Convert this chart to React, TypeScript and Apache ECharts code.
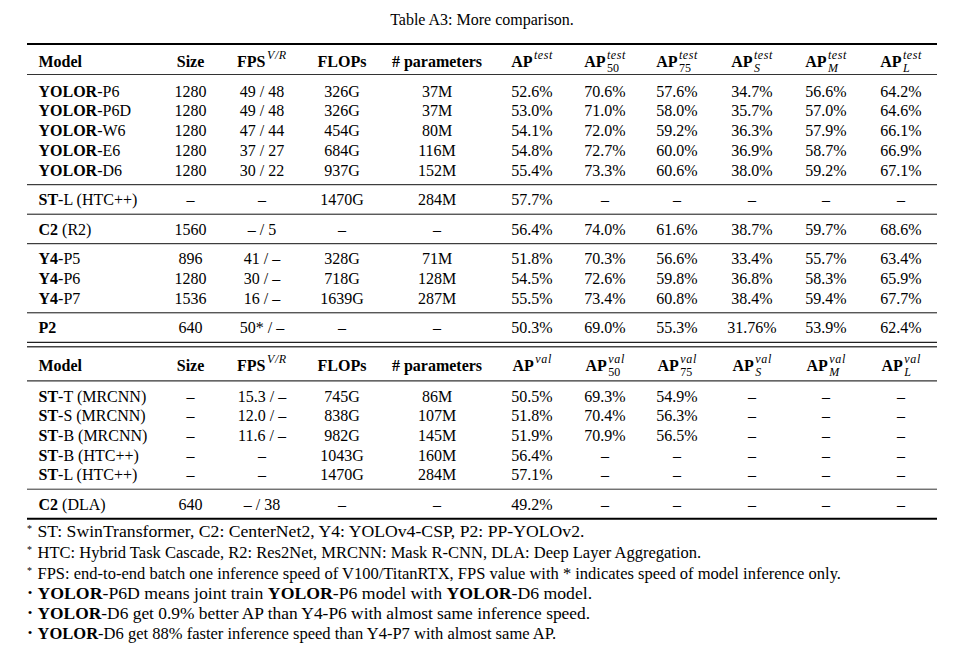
import React, { useEffect, useRef } from "react";
import * as echarts from "echarts";

const titleText = "Table A3: More comparison.";

// ---- header definitions ----
const headerMain = ["Model", "Size", "FPS", "FLOPs", "# parameters", "AP", "AP", "AP", "AP", "AP", "AP"];
const headerSupTop = ["", "", "V/R", "", "", "test", "test", "test", "test", "test", "test"];
const headerSupBottom = ["", "", "V/R", "", "", "val", "val", "val", "val", "val", "val"];
const headerSub = ["", "", "", "", "", "", "50", "75", "S", "M", "L"];
const headerSubItalic = [false, false, false, false, false, false, false, false, true, true, true];

// ---- top section (test-dev) ----
const topGroups = [5, 1, 1, 3, 1];
const topModelBold = ["YOLOR", "YOLOR", "YOLOR", "YOLOR", "YOLOR", "ST", "C2", "Y4", "Y4", "Y4", "P2"];
const topModelRest = ["-P6", "-P6D", "-W6", "-E6", "-D6", "-L (HTC++)", " (R2)", "-P5", "-P6", "-P7", ""];
const topSize = ["1280", "1280", "1280", "1280", "1280", "–", "1560", "896", "1280", "1536", "640"];
const topFps = ["49 / 48", "49 / 48", "47 / 44", "37 / 27", "30 / 22", "–", "– / 5", "41 / –", "30 / –", "16 / –", "50* / –"];
const topFlops = ["326G", "326G", "454G", "684G", "937G", "1470G", "–", "328G", "718G", "1639G", "–"];
const topParams = ["37M", "37M", "80M", "116M", "152M", "284M", "–", "71M", "128M", "287M", "–"];
const topAP = ["52.6%", "53.0%", "54.1%", "54.8%", "55.4%", "57.7%", "56.4%", "51.8%", "54.5%", "55.5%", "50.3%"];
const topAP50 = ["70.6%", "71.0%", "72.0%", "72.7%", "73.3%", "–", "74.0%", "70.3%", "72.6%", "73.4%", "69.0%"];
const topAP75 = ["57.6%", "58.0%", "59.2%", "60.0%", "60.6%", "–", "61.6%", "56.6%", "59.8%", "60.8%", "55.3%"];
const topAPS = ["34.7%", "35.7%", "36.3%", "36.9%", "38.0%", "–", "38.7%", "33.4%", "36.8%", "38.4%", "31.76%"];
const topAPM = ["56.6%", "57.0%", "57.9%", "58.7%", "59.2%", "–", "59.7%", "55.7%", "58.3%", "59.4%", "53.9%"];
const topAPL = ["64.2%", "64.6%", "66.1%", "66.9%", "67.1%", "–", "68.6%", "63.4%", "65.9%", "67.7%", "62.4%"];

// ---- bottom section (val) ----
const botGroups = [5, 1];
const botModelBold = ["ST", "ST", "ST", "ST", "ST", "C2"];
const botModelRest = ["-T (MRCNN)", "-S (MRCNN)", "-B (MRCNN)", "-B (HTC++)", "-L (HTC++)", " (DLA)"];
const botSize = ["–", "–", "–", "–", "–", "640"];
const botFps = ["15.3 / –", "12.0 / –", "11.6 / –", "–", "–", "– / 38"];
const botFlops = ["745G", "838G", "982G", "1043G", "1470G", "–"];
const botParams = ["86M", "107M", "145M", "160M", "284M", "–"];
const botAP = ["50.5%", "51.8%", "51.9%", "56.4%", "57.1%", "49.2%"];
const botAP50 = ["69.3%", "70.4%", "70.9%", "–", "–", "–"];
const botAP75 = ["54.9%", "56.3%", "56.5%", "–", "–", "–"];
const botAPS = ["–", "–", "–", "–", "–", "–"];
const botAPM = ["–", "–", "–", "–", "–", "–"];
const botAPL = ["–", "–", "–", "–", "–", "–"];

// ---- footnotes ----
const footMarks = ["*", "*", "*", "•", "•", "•"];
const footTexts = [
  "ST: SwinTransformer, C2: CenterNet2, Y4: YOLOv4-CSP, P2: PP-YOLOv2.",
  "HTC: Hybrid Task Cascade, R2: Res2Net, MRCNN: Mask R-CNN, DLA: Deep Layer Aggregation.",
  "FPS: end-to-end batch one inference speed of V100/TitanRTX, FPS value with * indicates speed of model inference only.",
  "{b|YOLOR}-P6D means joint train {b|YOLOR}-P6 model with {b|YOLOR}-D6 model.",
  "{b|YOLOR}-D6 get 0.9% better AP than Y4-P6 with almost same inference speed.",
  "{b|YOLOR}-D6 get 88% faster inference speed than Y4-P7 with almost same AP.",
];

// ---- layout (styles) ----
const FONT = "'Liberation Serif', 'Times New Roman', Times, serif";
const FS = 16;
const SFS = 12;
const FFS = 16.5;
const TABLE_L = 27;
const TABLE_R = 937;
const MODEL_X = 38.5;
const COL_X = [0, 190.5, 262, 342, 437, 532, 605, 677, 752, 826, 901];
const FOOT_X = 37.5;
const FOOT_Y = [532, 553, 573.5, 594, 614, 634];
const FOOT_END = [586, 703, 842, 592, 593, 558];

function App() {
  const ref = useRef<HTMLDivElement>(null);
  useEffect(() => {
    document.body.style.margin = "0";
    const chart = echarts.init(ref.current!, null, { renderer: "svg" });
    const cv = document.createElement("canvas").getContext("2d")!;
    const tw = (t: string, size: number, weight = "normal", style = "normal") => {
      cv.font = `${style} ${weight} ${size}px ${FONT}`;
      return cv.measureText(t).width;
    };
    const richWidth = (t: string, size: number) => {
      let w = 0;
      const re = /\{b\|([^}]*)\}/g;
      let last = 0;
      let m: RegExpExecArray | null;
      while ((m = re.exec(t))) {
        w += tw(t.slice(last, m.index), size);
        w += tw(m[1], size, "bold");
        last = m.index + m[0].length;
      }
      w += tw(t.slice(last), size);
      return w;
    };
    const els: any[] = [];
    const txt = (x: number, y: number, text: string, opts: any = {}, extra: any = {}) => {
      els.push({
        type: "text",
        x,
        y,
        silent: true,
        ...extra,
        style: {
          text,
          fontFamily: FONT,
          fontSize: FS,
          fill: "#000",
          align: "center",
          verticalAlign: "middle",
          ...opts,
        },
      });
    };
    const hline = (y: number, w: number, color = "#000") => {
      els.push({
        type: "line",
        silent: true,
        shape: { x1: TABLE_L, y1: y, x2: TABLE_R, y2: y },
        style: { stroke: color, lineWidth: w },
      });
    };

    // title
    txt((TABLE_L + TABLE_R) / 2, 19, titleText);

    const drawHeader = (yc: number, sups: string[]) => {
      headerMain.forEach((m, i) => {
        if (i === 0) {
          txt(MODEL_X, yc, m, { align: "left", fontWeight: "bold" });
          return;
        }
        const sup = sups[i];
        const sub = headerSub[i];
        const wm = tw(m, FS, "bold");
        const ws = sup ? tw(sup, SFS, "normal", "italic") * 1.12 : 0;
        const wb = sub ? tw(sub, SFS, "normal", headerSubItalic[i] ? "italic" : "normal") : 0;
        const extra = Math.max(ws, wb) + (sup || sub ? 1.5 : 0);
        const left = COL_X[i] - (wm + extra) / 2;
        txt(left, yc, m, { align: "left", fontWeight: "bold" });
        if (sup) {
          let sx = left + wm + 1.5;
          for (const ch of sup) {
            txt(sx, yc - 6, ch, { align: "left", fontSize: SFS, fontStyle: "italic" });
            sx += tw(ch, SFS, "normal", "italic") * 1.12;
          }
        }
        if (sub)
          txt(left + wm + 1.5, yc + 6.5, sub, {
            align: "left",
            fontSize: SFS,
            fontStyle: headerSubItalic[i] ? "italic" : "normal",
          });
      });
    };

    const drawRows = (
      startY: number,
      pitch: number,
      groups: number[],
      cols: string[][],
      bold: string[],
      rest: string[],
      gapBefore: number,
      gapAfter: number,
      lineColor: string
    ) => {
      let y = startY;
      let r = 0;
      const sepYs: number[] = [];
      groups.forEach((g, gi) => {
        for (let k = 0; k < g; k++) {
          txt(MODEL_X, y, `{b|${bold[r]}}${rest[r]}`, {
            align: "left",
            rich: { b: { fontWeight: "bold", fontFamily: FONT, fontSize: FS, fill: "#000" } },
          });
          cols.forEach((c, ci) => txt(COL_X[ci + 1], y, c[r]));
          r++;
          if (k < g - 1) y += pitch;
        }
        const ly = y + gapBefore;
        sepYs.push(ly);
        if (gi < groups.length - 1) {
          hline(ly, 1, lineColor);
          y = ly + gapAfter;
        }
      });
      return sepYs[sepYs.length - 1];
    };

    // top section
    hline(44, 2);
    drawHeader(61, headerSupTop);
    hline(74.5, 1.2, "#333");
    const topEnd = drawRows(
      91,
      19.8,
      topGroups,
      [topSize, topFps, topFlops, topParams, topAP, topAP50, topAP75, topAPS, topAPM, topAPL],
      topModelBold,
      topModelRest,
      14.5,
      15,
      "#111"
    );
    hline(topEnd, 1.2, "#222");
    hline(topEnd + 4.5, 1.5, "#444");

    // bottom section
    const h2 = topEnd + 23;
    drawHeader(h2, headerSupBottom);
    hline(h2 + 15.5, 1.2, "#333");
    const botEnd = drawRows(
      h2 + 31,
      19.6,
      botGroups,
      [botSize, botFps, botFlops, botParams, botAP, botAP50, botAP75, botAPS, botAPM, botAPL],
      botModelBold,
      botModelRest,
      14.5,
      15,
      "#333"
    );
    hline(botEnd, 2);

    // footnotes
    footTexts.forEach((t, i) => {
      const isStar = footMarks[i] === "*";
      txt(isStar ? 29.5 : 30, FOOT_Y[i] + (isStar ? -3.5 : -1.5), footMarks[i], {
        align: "center",
        fontSize: isStar ? 10 : 13,
      });
      const natural = richWidth(t, FFS);
      const sx = natural > 0 ? (FOOT_END[i] - FOOT_X) / natural : 1;
      txt(
        FOOT_X,
        FOOT_Y[i],
        t,
        {
          align: "left",
          fontSize: FFS,
          rich: { b: { fontWeight: "bold", fontFamily: FONT, fontSize: FFS, fill: "#000" } },
        },
        { scaleX: Math.min(1.12, Math.max(0.9, sx)) }
      );
    });

    chart.setOption({
      animation: false,
      backgroundColor: "#fff",
      graphic: { elements: els },
    });
    return () => chart.dispose();
  }, []);
  return <div ref={ref} style={{ width: 978, height: 654 }} />;
}

export default App;
